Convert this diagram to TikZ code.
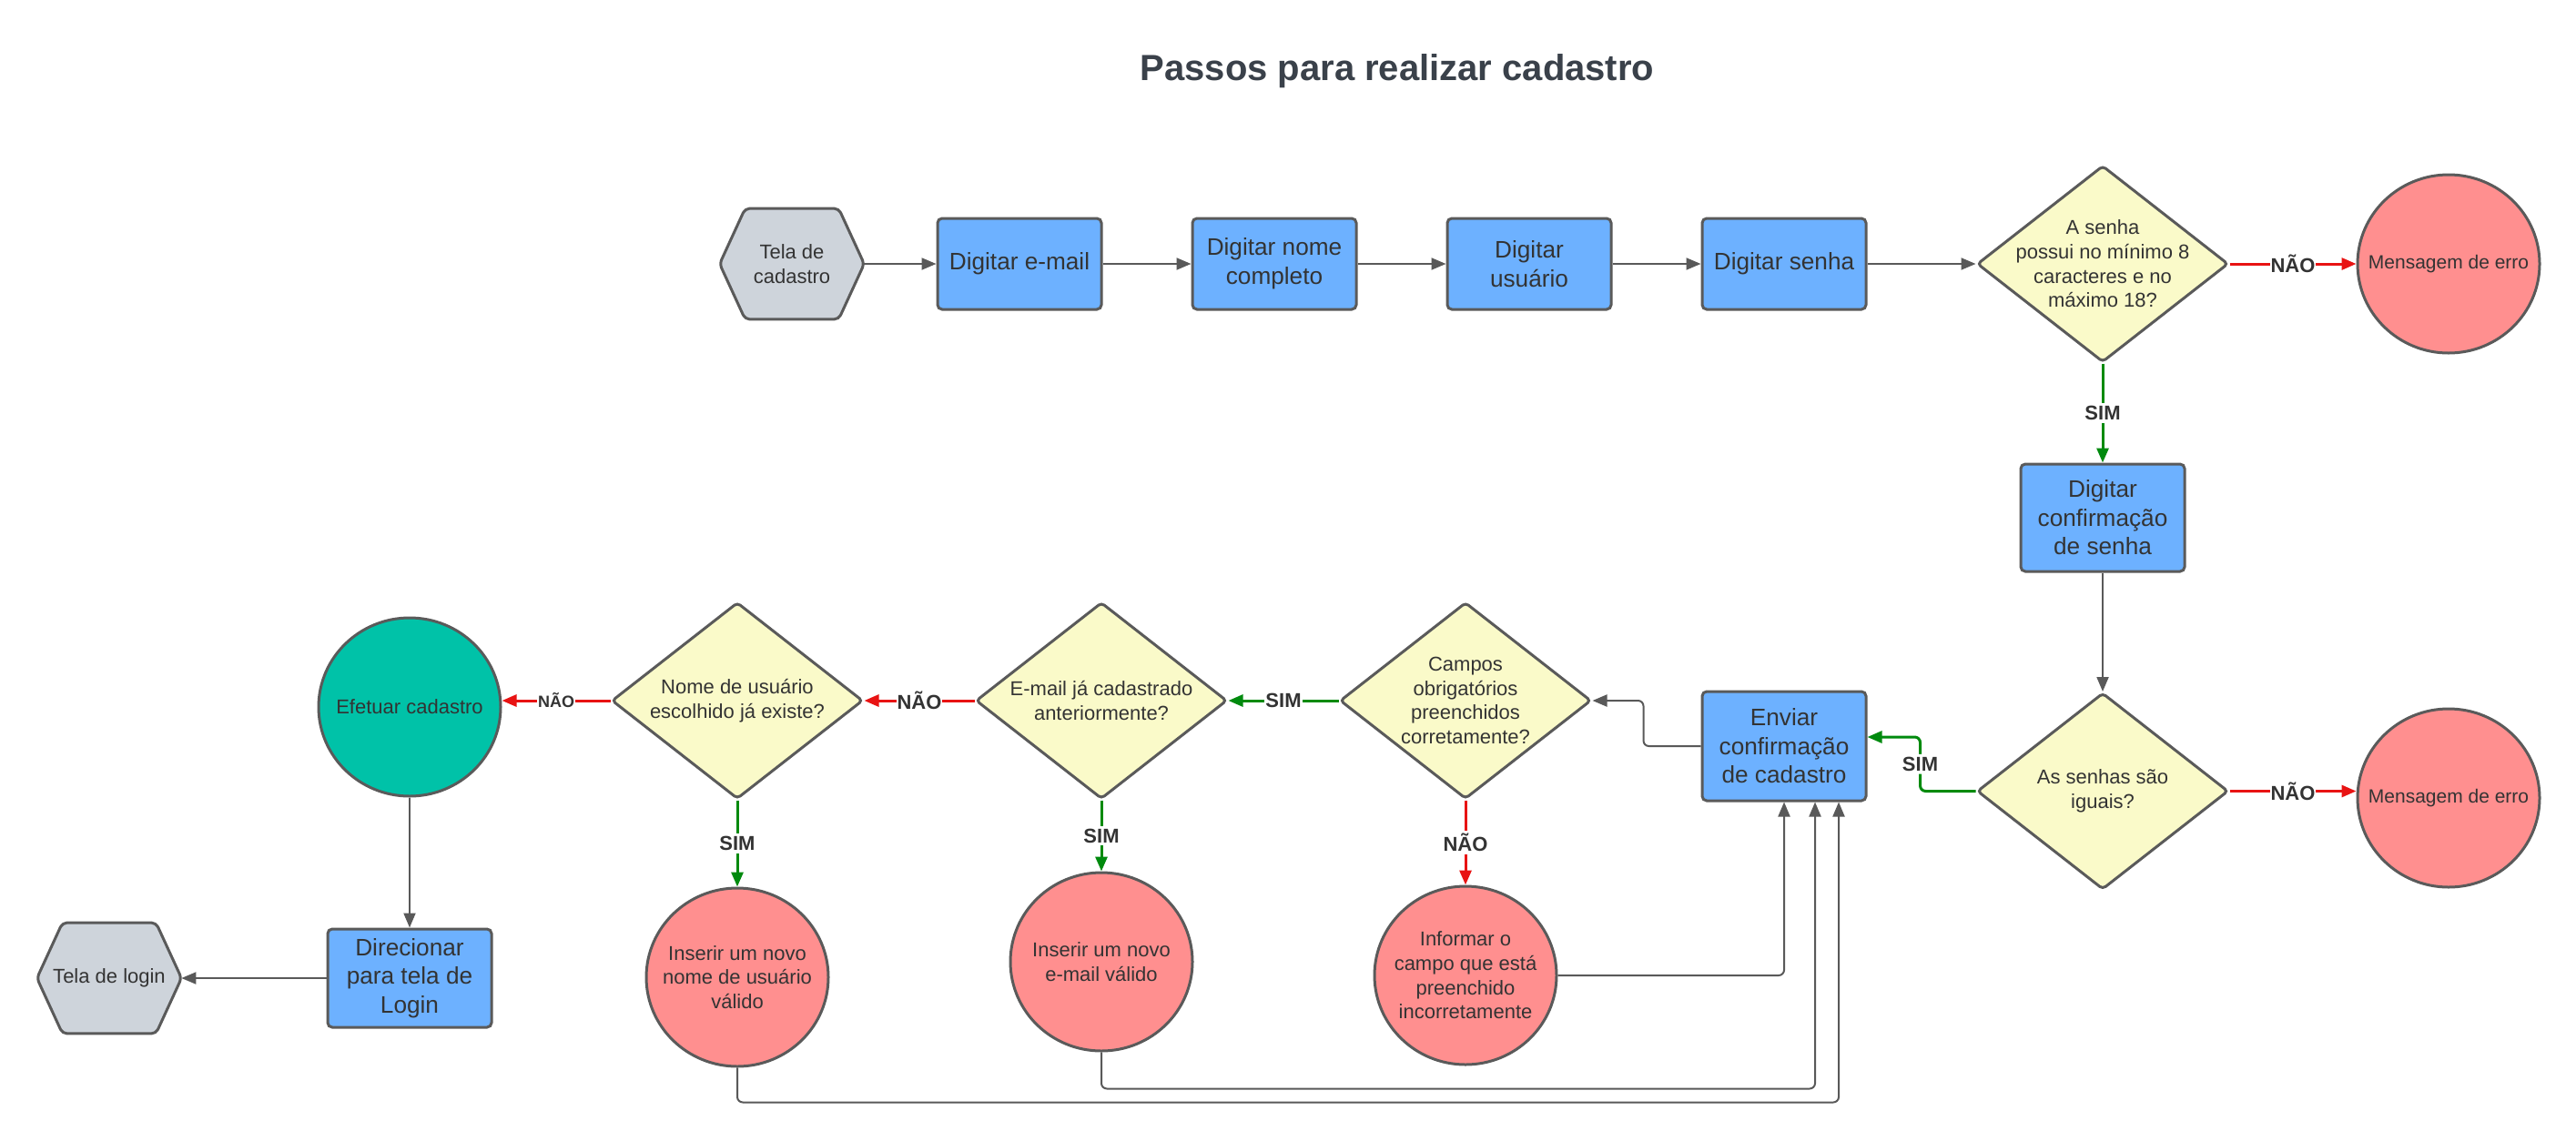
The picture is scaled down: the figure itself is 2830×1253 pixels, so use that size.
\documentclass[tikz,border=0pt]{standalone}
\usepackage{fontspec}
\setmainfont{Liberation Sans}
\usetikzlibrary{arrows.meta,shapes.geometric,backgrounds}
\definecolor{bd}{HTML}{5A5A5A}
\definecolor{lnc}{HTML}{595959}
\definecolor{txt}{HTML}{333333}
\definecolor{ttl}{HTML}{3A414A}
\definecolor{boxblue}{HTML}{6DB1FF}
\definecolor{hexgray}{HTML}{CED4DB}
\definecolor{dyellow}{HTML}{FAFAC9}
\definecolor{pinkc}{HTML}{FF8F8F}
\definecolor{tealc}{HTML}{00C2A8}
\definecolor{redl}{HTML}{E81313}
\definecolor{greenl}{HTML}{008A0E}
\tikzset{
  stepbox/.style={rectangle, rounded corners=2.5pt, draw=bd, line width=1.5pt, fill=boxblue,
    minimum width=90pt, minimum height=50pt, inner sep=2pt, align=center, text=txt,
    font=\fontsize{13.1}{15.8}\selectfont},
  hexnode/.style={minimum width=79pt, minimum height=60.5pt, inner sep=0pt, align=center,
    text=txt, font=\fontsize{11}{13.3}\selectfont},
  hexpath/.style={draw=bd, fill=hexgray, line width=1.5pt, rounded corners=2.5pt},
  decision/.style={diamond, draw=bd, line width=1.5pt, fill=dyellow, rounded corners=2pt,
    minimum width=138pt, minimum height=108pt, inner sep=0pt},
  endcirc/.style={ellipse, draw=bd, line width=1.5pt, minimum width=100pt,
    minimum height=98pt, inner sep=0pt},
  intext/.style={align=center, text=txt, font=\fontsize{11}{13.3}\selectfont, inner sep=0pt},
  flowarrow/.style={draw=lnc, line width=1pt, -{Triangle[length=8pt,width=6.5pt]}},
  yesarrow/.style={draw=greenl, line width=1.5pt, -{Triangle[length=8pt,width=6.5pt]}},
  noarrow/.style={draw=redl, line width=1.5pt, -{Triangle[length=8pt,width=6.5pt]}},
  lbl/.style={fill=white, text=txt, font=\bfseries\fontsize{11}{13}\selectfont,
    inner xsep=0.5pt, inner ysep=1.5pt},
  smalllbl/.style={lbl, font=\bfseries\fontsize{9}{11}\selectfont},
}
\begin{document}
\begin{tikzpicture}[x=0.5pt, y=-0.5pt]
\path[use as bounding box] (0,0) rectangle (2830,1253);

% title
\node[text=ttl, font=\bfseries\fontsize{20}{24}\selectfont] (title) at (1535,78) {Passos para realizar cadastro};

% row 1
\node[hexnode] (tc) at (870,290) {Tela de\\cadastro};
\node[stepbox] (b1) at (1120,290) {Digitar e-mail};
\node[stepbox] (b2) at (1400,290) {Digitar nome\\completo};
\node[stepbox] (b3) at (1680,290) {Digitar\\usuário};
\node[stepbox] (b4) at (1960,290) {Digitar senha};
\node[decision, label={[intext]center:{A senha\\possui no mínimo 8\\caracteres e no\\máximo 18?}}] (d1) at (2310,290) {};
\node[endcirc, fill=pinkc, label={[intext, font=\fontsize{10.5}{13}\selectfont]center:{Mensagem de erro}}] (m1) at (2690,290) {};

% right column
\node[stepbox, minimum height=59pt] (b5) at (2310,569) {Digitar\\confirmação\\de senha};
\node[decision, label={[intext]center:{As senhas são\\iguais?}}] (d2) at (2310,869.5) {};
\node[endcirc, fill=pinkc, label={[intext, font=\fontsize{10.5}{13}\selectfont]center:{Mensagem de erro}}] (m2) at (2690,877) {};

% middle row
\node[stepbox, minimum height=60pt] (env) at (1960,820) {Enviar\\confirmação\\de cadastro};
\node[decision, label={[intext]center:{Campos\\obrigatórios\\preenchidos\\corretamente?}}] (d3) at (1610,770) {};
\node[decision, label={[intext]center:{E-mail já cadastrado\\anteriormente?}}] (d4) at (1210,770) {};
\node[decision, label={[intext]center:{Nome de usuário\\escolhido já existe?}}] (d5) at (810,770) {};
\node[endcirc, fill=tealc, label={[intext]center:{Efetuar cadastro}}] (ef) at (450,777) {};

% bottom row
\node[endcirc, fill=pinkc, label={[intext]center:{Informar o\\campo que está\\preenchido\\incorretamente}}] (c3) at (1610,1072) {};
\node[endcirc, fill=pinkc, label={[intext]center:{Inserir um novo\\e-mail válido}}] (c4) at (1210,1057) {};
\node[endcirc, fill=pinkc, label={[intext]center:{Inserir um novo\\nome de usuário\\válido}}] (c5) at (810,1074) {};
\node[stepbox, minimum height=54pt] (dir) at (450,1075) {Direcionar\\para tela de\\Login};
\node[hexnode] (tl) at (120,1075) {Tela de login};

% background: white page and hexagons
\begin{scope}[on background layer]
  \fill[white] (0,0) rectangle (2830,1253);
  \foreach \h in {tc,tl}
    \draw[hexpath] (\h.west) -- ([xshift=14pt]\h.north west) -- ([xshift=-14pt]\h.north east)
      -- (\h.east) -- ([xshift=-14pt]\h.south east) -- ([xshift=14pt]\h.south west) -- cycle;
\end{scope}

% connectors
\draw[flowarrow] (tc.east) -- (b1.west);
\draw[flowarrow] (b1.east) -- (b2.west);
\draw[flowarrow] (b2.east) -- (b3.west);
\draw[flowarrow] (b3.east) -- (b4.west);
\draw[flowarrow] (b4.east) -- (d1.west);
\draw[noarrow] (d1.east) -- node[lbl]{NÃO} (m1.west);
\draw[yesarrow] (d1.south) -- node[lbl]{SIM} (b5.north);
\draw[flowarrow] (b5.south) -- (d2.north);
\draw[noarrow] (d2.east) -- node[lbl]{NÃO} (d2.east -| m2.west);
\draw[yesarrow, rounded corners=3pt] (d2.west) -- ++(-61,0) |- node[lbl, pos=0.25]{SIM} ([yshift=5pt]env.east);
\draw[flowarrow, rounded corners=3pt] (env.west) -- ++(-63,0) |- (d3.east);
\draw[noarrow] (d3.south) -- node[lbl]{NÃO} (c3.north);
\draw[yesarrow] (d3.west) -- node[lbl]{SIM} (d4.east);
\draw[yesarrow] (d4.south) -- node[lbl]{SIM} (c4.north);
\draw[noarrow] (d4.west) -- node[lbl]{NÃO} (d5.east);
\draw[yesarrow] (d5.south) -- node[lbl]{SIM} (c5.north);
\draw[noarrow] (d5.west) -- node[smalllbl]{NÃO} (d5.west -| ef.east);
\draw[flowarrow] (ef.south) -- (dir.north);
\draw[flowarrow] (dir.west) -- (tl.east);
\draw[flowarrow, rounded corners=3pt] (c3.east) -| (env.south);
\draw[flowarrow, rounded corners=3pt] (c4.south) -- ++(0,40) -| ([xshift=17pt]env.south);
\draw[flowarrow, rounded corners=3pt] (c5.south) -- ++(0,38) -| ([xshift=30pt]env.south);
\end{tikzpicture}
\end{document}
